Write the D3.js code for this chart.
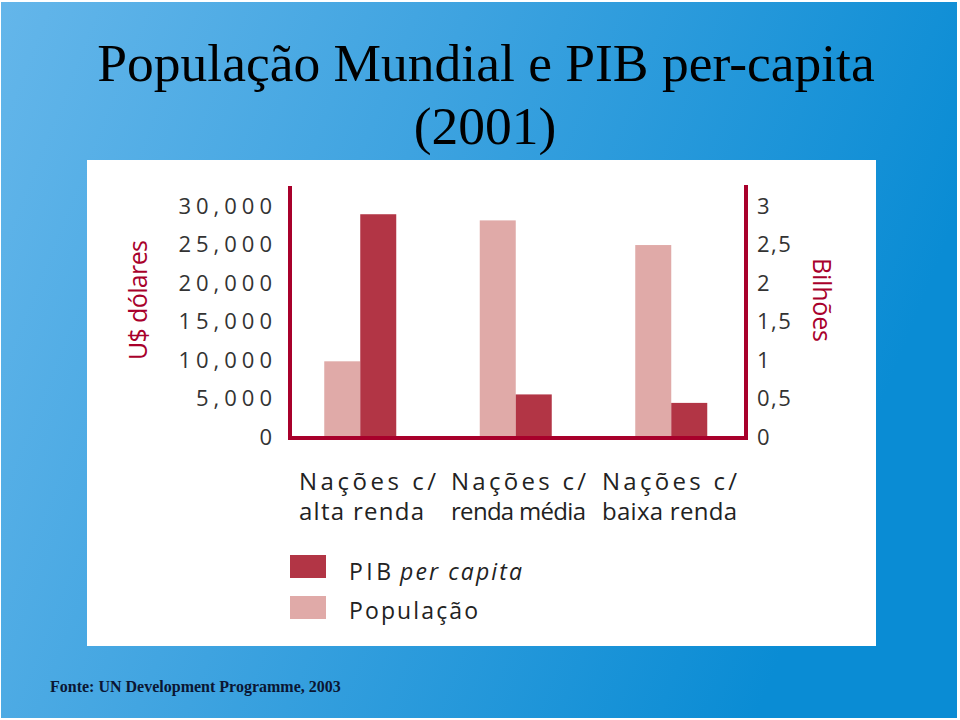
<!DOCTYPE html>
<html>
<head>
<meta charset="utf-8">
<script src="https://cdn.jsdelivr.net/npm/d3@7"></script>
<style>
  html, body { margin: 0; padding: 0; background: #fff; }
  svg { display: block; }
</style>
</head>
<body>
<svg id="chart" width="960" height="720"></svg>
<script>
// ---- data ----
const categories = ["alta", "media", "baixa"];
const categoryLine1 = ["Nações c/", "Nações c/", "Nações c/"];
const categoryLine2 = ["alta renda", "renda média", "baixa renda"];
const pibPerCapita = [28800, 5400, 4300];      // US$ (left axis)
const populacao = [0.97, 2.8, 2.48];           // billions (right axis)
const leftTicks = [0, 5000, 10000, 15000, 20000, 25000, 30000];
const leftTickLabels = ["0", "5,000", "10,000", "15,000", "20,000", "25,000", "30,000"];
const rightTicks = [0, 0.5, 1, 1.5, 2, 2.5, 3];
const rightTickLabels = ["0", "0,5", "1", "1,5", "2", "2,5", "3"];
const seriesNames = ["População", "PIB"];

const W = 960, H = 720;
const svg = d3.select("#chart");
const defs = svg.append("defs");
const grad = defs.append("linearGradient").attr("id", "bg")
  .attr("x1", "0%").attr("y1", "0%").attr("x2", "100%").attr("y2", "30%");
grad.append("stop").attr("offset", "0%").attr("stop-color", "#64b6ea");
grad.append("stop").attr("offset", "45%").attr("stop-color", "#3ea3e0");
grad.append("stop").attr("offset", "100%").attr("stop-color", "#0a8cd4");

svg.append("rect").attr("x", 0).attr("y", 0).attr("width", W).attr("height", H).attr("fill", "#fff");
svg.append("rect").attr("x", 1).attr("y", 2).attr("width", W - 4).attr("height", H - 4).attr("fill", "url(#bg)");

// title
const title = svg.append("text").attr("text-anchor", "middle")
  .attr("font-family", "'Liberation Serif', 'Times New Roman', serif")
  .attr("font-size", 53.5).attr("fill", "#000");
title.append("tspan").attr("x", 486).attr("y", 81).text("População Mundial e PIB per-capita");
title.append("tspan").attr("x", 485).attr("y", 144).text("(2001)");

// white panel
svg.append("rect").attr("x", 87).attr("y", 160).attr("width", 789).attr("height", 486).attr("fill", "#fff");

// scales
const axisColor = "#a8002b";
const pibColor = "#b23545";
const popColor = "#e0aaa8";
const y0 = 436;
const yL = d3.scaleLinear().domain([0, 30000]).range([y0, 205]);
const yR = d3.scaleLinear().domain([0, 3]).range([y0, 205]);
const x0 = d3.scaleBand().domain(categories).range([282.5, 749])
  .paddingInner(0.537).paddingOuter(0.2685);
const x1 = d3.scaleBand().domain(seriesNames).range([0, x0.bandwidth()]);

const sans = "'Open Sans', Lato, sans-serif";

// bars
const g = svg.append("g");
categories.forEach((c, i) => {
  g.append("rect").attr("x", x0(c) + x1("População")).attr("width", x1.bandwidth())
    .attr("y", yR(populacao[i])).attr("height", y0 - yR(populacao[i])).attr("fill", popColor);
  g.append("rect").attr("x", x0(c) + x1("PIB")).attr("width", x1.bandwidth())
    .attr("y", yL(pibPerCapita[i])).attr("height", y0 - yL(pibPerCapita[i])).attr("fill", pibColor);
});

// axes using d3 axis generators
const leftAxis = d3.axisLeft(yL).tickValues(leftTicks)
  .tickFormat((d, i) => leftTickLabels[i]).tickSize(0).tickPadding(13);
const la = svg.append("g").attr("transform", "translate(290,0)").call(leftAxis);
la.select(".domain").remove();
la.selectAll("text").attr("font-family", sans).attr("font-size", 22)
  .attr("fill", "#333").attr("letter-spacing", 5).attr("dy", "0.38em");

const rightAxis = d3.axisRight(yR).tickValues(rightTicks)
  .tickFormat((d, i) => rightTickLabels[i]).tickSize(0).tickPadding(11);
const ra = svg.append("g").attr("transform", "translate(746,0)").call(rightAxis);
ra.select(".domain").remove();
ra.selectAll("text").attr("font-family", sans).attr("font-size", 22)
  .attr("fill", "#333").attr("letter-spacing", 1.5).attr("dy", "0.38em");

// axis lines (L-shape + right vertical)
svg.append("path")
  .attr("d", `M290,186 L290,${y0 + 2} L746,${y0 + 2} L746,185`)
  .attr("fill", "none").attr("stroke", axisColor).attr("stroke-width", 4);

// axis titles
svg.append("text").attr("transform", "translate(147,300) rotate(-90)")
  .attr("text-anchor", "middle").attr("font-family", sans).attr("font-size", 25)
  .attr("fill", axisColor).attr("textLength", 120).attr("lengthAdjust", "spacing").text("U$ dólares");
svg.append("text").attr("transform", "translate(813,300) rotate(90)")
  .attr("text-anchor", "middle").attr("font-family", sans).attr("font-size", 25)
  .attr("fill", axisColor).attr("textLength", 84).attr("lengthAdjust", "spacing").text("Bilhões");

// category labels
const labX = [299, 451, 602];
const line1W = [137, 135, 135];
const line2W = [125, 135, 135];
categories.forEach((c, i) => {
  const t = svg.append("text").attr("font-family", sans).attr("font-size", 24)
    .attr("fill", "#222");
  t.append("tspan").attr("x", labX[i]).attr("y", 490)
    .attr("textLength", line1W[i]).attr("lengthAdjust", "spacing").text(categoryLine1[i]);
  t.append("tspan").attr("x", labX[i]).attr("y", 520)
    .attr("textLength", line2W[i]).attr("lengthAdjust", "spacing").text(categoryLine2[i]);
});

// legend
const lg = svg.append("g");
lg.append("rect").attr("x", 290).attr("y", 555).attr("width", 36).attr("height", 23).attr("fill", pibColor);
lg.append("rect").attr("x", 290).attr("y", 596).attr("width", 36).attr("height", 23).attr("fill", popColor);
const lt1 = lg.append("text").attr("font-family", sans).attr("font-size", 23).attr("fill", "#222");
lt1.append("tspan").attr("x", 349).attr("y", 580).attr("textLength", 42).attr("lengthAdjust", "spacing").text("PIB");
lt1.append("tspan").attr("x", 400).attr("y", 580).attr("font-style", "italic")
  .attr("textLength", 122).attr("lengthAdjust", "spacing").text("per capita");
lg.append("text").attr("x", 349).attr("y", 619).attr("font-family", sans)
  .attr("font-size", 23).attr("fill", "#222")
  .attr("textLength", 129).attr("lengthAdjust", "spacing").text("População");

// source
svg.append("text").attr("x", 50).attr("y", 692)
  .attr("font-family", "'Liberation Serif', 'Times New Roman', serif")
  .attr("font-size", 16).attr("font-weight", "bold").attr("fill", "#0b1633")
  .text("Fonte: UN Development Programme, 2003");
</script>
</body>
</html>
